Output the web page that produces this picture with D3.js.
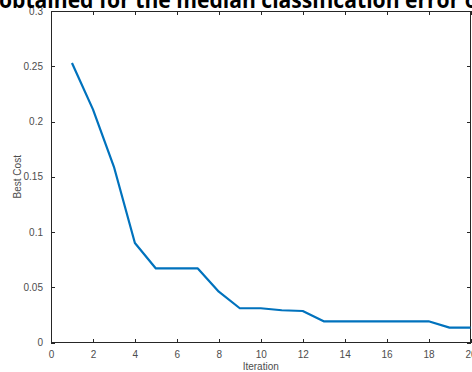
<!DOCTYPE html>
<html><head><meta charset="utf-8">
<script src="https://cdn.jsdelivr.net/npm/d3@7"></script>
<style>
html,body{margin:0;padding:0;background:#fff;overflow:hidden;}
svg{display:block;}
</style></head>
<body>
<script>
const iterations = [1,2,3,4,5,6,7,8,9,10,11,12,13,14,15,16,17,18,19,20];
const bestCost = [0.253,0.211,0.159,0.090,0.067,0.067,0.067,0.046,0.031,0.031,0.0292,0.0285,0.0192,0.0192,0.0192,0.0192,0.0192,0.0192,0.0135,0.0135];
const xTicks = [0,2,4,6,8,10,12,14,16,18,20];
const yTicks = [0,0.05,0.1,0.15,0.2,0.25,0.3];
const titleText = "obtained for the median classification error of";

(function(){
const W = 472, H = 372;
const svg = d3.select("body").append("svg").attr("width", W).attr("height", H);

const mLeft = 51, mRight = 470.5, mTop = 11, mBottom = 342.5;
const x = d3.scaleLinear().domain([0,20]).range([mLeft, mRight]);
const y = d3.scaleLinear().domain([0,0.3]).range([mBottom, mTop]);

const axisColor = "#262626";
const font = "Liberation Sans, Arial, sans-serif";

svg.append("rect").attr("x", mLeft).attr("y", mTop).attr("width", mRight-mLeft).attr("height", mBottom-mTop)
  .attr("fill","#fff").attr("stroke", axisColor).attr("stroke-width",1).attr("shape-rendering","crispEdges");

const xb = svg.append("g").attr("transform",`translate(0,${mBottom})`)
  .call(d3.axisBottom(x).tickValues(xTicks).tickSize(-4).tickPadding(8).tickFormat(d3.format("d")));
const xt = svg.append("g").attr("transform",`translate(0,${mTop})`)
  .call(d3.axisTop(x).tickValues(xTicks).tickSize(-4).tickFormat(""));
const yl = svg.append("g").attr("transform",`translate(${mLeft},0)`)
  .call(d3.axisLeft(y).tickValues(yTicks).tickSize(-4).tickPadding(8).tickFormat(d => d===0 ? "0" : String(+d.toFixed(2))));
const yr = svg.append("g").attr("transform",`translate(${mRight},0)`)
  .call(d3.axisRight(y).tickValues(yTicks).tickSize(-4).tickFormat(""));

[xb,xt,yl,yr].forEach(g => {
  g.select(".domain").remove();
  g.selectAll("line").attr("stroke", axisColor).attr("shape-rendering","crispEdges");
  g.selectAll("text").attr("fill","#4d4d4d").style("font-family", font).style("font-size","10px");
});

svg.append("path").datum(iterations.map((d,i)=>[d,bestCost[i]]))
  .attr("fill","none").attr("stroke","#0072BD").attr("stroke-width",2.2).attr("stroke-linejoin","round")
  .attr("d", d3.line().x(d=>x(d[0])).y(d=>y(d[1])));

svg.append("text").attr("x", (mLeft+mRight)/2).attr("y", 370).attr("text-anchor","middle")
  .attr("fill","#4d4d4d").style("font-family",font).style("font-size","10px").text("Iteration");
svg.append("text").attr("transform",`translate(21,${(mTop+mBottom)/2}) rotate(-90)`).attr("text-anchor","middle")
  .attr("fill","#4d4d4d").style("font-family",font).style("font-size","10px").text("Best Cost");

svg.append("text").attr("x", -1).attr("y", 8)
  .attr("fill","#000").style("font-family","Open Sans, sans-serif").style("font-weight","bold").style("font-size","23px")
  .attr("textLength", 487).attr("lengthAdjust","spacingAndGlyphs")
  .text(titleText);
})();
</script>
</body></html>
